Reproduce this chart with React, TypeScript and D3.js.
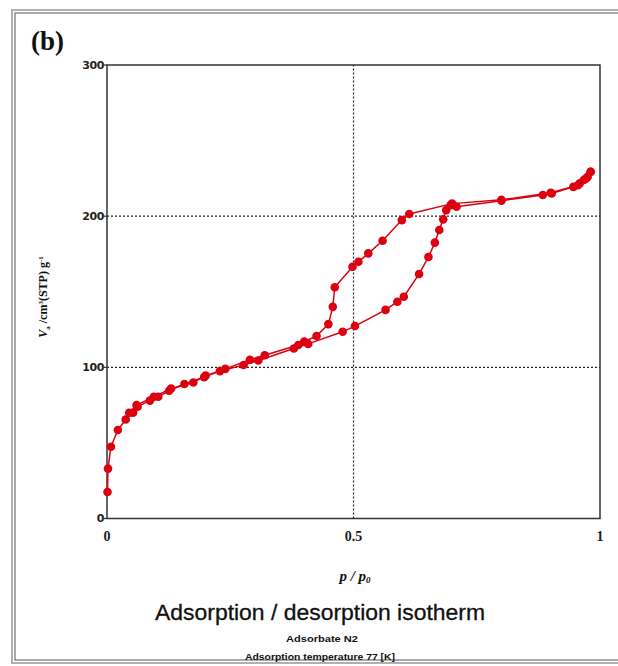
import * as d3 from 'd3'

// adsorption branch, p/p0 ascending
const adsX = [0.001, 0.002, 0.008, 0.022, 0.038, 0.053, 0.062, 0.087, 0.104, 0.126, 0.157, 0.197, 0.229, 0.277, 0.307, 0.379, 0.408, 0.478, 0.503, 0.565, 0.589, 0.602, 0.633, 0.652, 0.665, 0.674, 0.682, 0.688, 0.697, 0.709, 0.8, 0.884, 0.902, 0.946, 0.959, 0.967, 0.975, 0.981]
const adsY = [17.5, 33, 47.5, 58.5, 65.5, 70, 74, 78, 80.5, 84.5, 89, 93.5, 97.5, 101.5, 104.5, 112.5, 115.5, 123.5, 127.3, 138, 143.4, 146.7, 161.7, 173, 182.5, 190.8, 197.9, 204, 207.3, 206.2, 210.2, 214, 215, 219.4, 221.7, 223.9, 226, 229.4]

// desorption branch, p/p0 descending
const desX = [0.981, 0.972, 0.955, 0.9, 0.8, 0.7, 0.613, 0.598, 0.559, 0.53, 0.51, 0.498, 0.462, 0.458, 0.449, 0.425, 0.4, 0.388, 0.32, 0.29, 0.24, 0.2, 0.175, 0.13, 0.095, 0.06, 0.045]
const desY = [229.4, 225, 220.5, 215.5, 210.8, 208.3, 201.4, 197.4, 183.7, 175.4, 169.8, 166.5, 153, 140, 128.6, 120.7, 117, 114.8, 108, 105, 99, 94.5, 90, 86, 80.5, 75, 70]

const yTicks = [0, 100, 200, 300]
const xTicks = [0, 0.5, 1]
const xTickLabels = ['0', '0.5', '1']

const RED = '#dc0010'

export default function App() {
  const x = d3.scaleLinear().domain([0, 1]).range([107, 600])
  const y = d3.scaleLinear().domain([0, 300]).range([518.5, 65])

  const ads = adsX.map((v, i) => [v, adsY[i]] as [number, number])
  const des = desX.map((v, i) => [v, desY[i]] as [number, number])

  const line = d3
    .line<[number, number]>()
    .x((d) => x(d[0]))
    .y((d) => y(d[1]))

  return (
    <svg
      width={618}
      height={666}
      style={{ position: 'absolute', left: 0, top: 0, background: '#fff' }}
    >
      {/* outer frame */}
      <rect x={12} y={10} width={640} height={653} fill="none" stroke="#b0b0b0" strokeWidth={2} />
      <rect x={15} y={13} width={640} height={647} fill="none" stroke="#555" strokeWidth={1} />

      <text x={31} y={50} fontFamily="Liberation Serif" fontWeight="bold" fontSize={27} fill="#111">
        (b)
      </text>

      {/* dotted grid */}
      {[100, 200].map((t) => (
        <line key={t} x1={x(0)} x2={x(1)} y1={y(t)} y2={y(t)} stroke="#222" strokeWidth={1.2} strokeDasharray="2,2" />
      ))}
      <line x1={x(0.5)} x2={x(0.5)} y1={y(0)} y2={y(300)} stroke="#222" strokeWidth={1.2} strokeDasharray="2,2" />

      {/* plot frame */}
      <rect x={x(0)} y={y(300)} width={x(1) - x(0)} height={y(0) - y(300)} fill="none" stroke="#333" strokeWidth={1.5} />

      {yTicks.map((t) => (
        <g key={t}>
          <line x1={x(0) - 3} x2={x(0)} y1={y(t)} y2={y(t)} stroke="#333" strokeWidth={1.2} />
          <text
            x={x(0) - 3}
            y={y(t)}
            dy="0.36em"
            textAnchor="end"
            fontFamily="DejaVu Sans"
            fontWeight="bold"
            fontSize={11}
            letterSpacing={-0.4}
            fill="#222"
          >
            {t}
          </text>
        </g>
      ))}

      {xTicks.map((t, i) => (
        <text
          key={t}
          x={x(t)}
          y={541}
          textAnchor="middle"
          fontFamily="Liberation Serif"
          fontWeight="bold"
          fontSize={14}
          fill="#1a1a2a"
        >
          {xTickLabels[i]}
        </text>
      ))}

      {/* series */}
      <path d={line(ads) ?? ''} fill="none" stroke={RED} strokeWidth={1.5} />
      <path d={line(des) ?? ''} fill="none" stroke={RED} strokeWidth={1.5} />
      {ads.map((d, i) => (
        <circle key={'a' + i} cx={x(d[0])} cy={y(d[1])} r={4.3} fill={RED} />
      ))}
      {des.map((d, i) => (
        <circle key={'d' + i} cx={x(d[0])} cy={y(d[1])} r={4.3} fill={RED} />
      ))}

      {/* axis titles */}
      <text
        transform="translate(47,297) rotate(-90)"
        textAnchor="middle"
        fontFamily="Liberation Serif"
        fontWeight="bold"
        fontSize={12}
        fill="#111"
      >
        <tspan fontStyle="italic">V</tspan>
        <tspan fontSize={7} dy={3}>a</tspan>
        <tspan dy={-3}> /cm</tspan>
        <tspan fontSize={7} dy={-4}>3</tspan>
        <tspan dy={4}>(STP) g</tspan>
        <tspan fontSize={7} dy={-4}>-1</tspan>
      </text>

      <text x={355} y={581} textAnchor="middle" fontFamily="Liberation Serif" fontWeight="bold" fontStyle="italic" fontSize={15} fill="#111">
        p / p<tspan fontSize={9} dy={2}>0</tspan>
      </text>

      <text
        x={155}
        y={620}
        fontFamily="Liberation Sans"
        fontSize={22}
        textLength={330}
        lengthAdjust="spacingAndGlyphs"
        stroke="#111"
        strokeWidth={0.3}
        fill="#111"
      >
        Adsorption / desorption isotherm
      </text>
      <text
        x={286}
        y={642}
        fontFamily="Liberation Sans"
        fontWeight="bold"
        fontSize={9.5}
        textLength={72}
        lengthAdjust="spacingAndGlyphs"
        fill="#111"
      >
        Adsorbate N2
      </text>
      <text
        x={245}
        y={660}
        fontFamily="Liberation Sans"
        fontWeight="bold"
        fontSize={9.5}
        textLength={150}
        lengthAdjust="spacingAndGlyphs"
        fill="#111"
      >
        Adsorption temperature 77 [K]
      </text>
    </svg>
  )
}
